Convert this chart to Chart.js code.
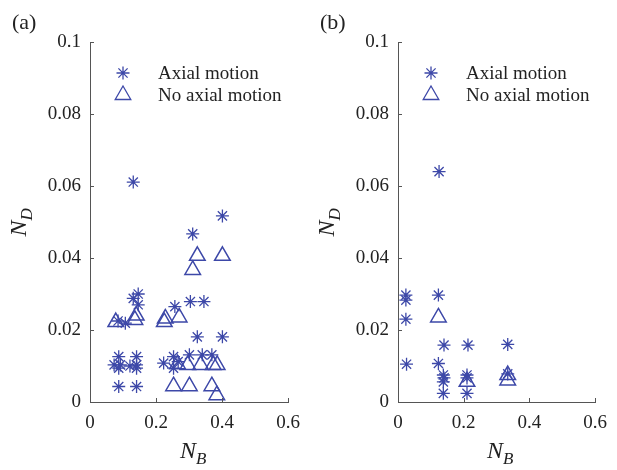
<!DOCTYPE html>
<html>
<head>
<meta charset="utf-8">
<script src="https://cdn.jsdelivr.net/npm/chart.js@4"></script>
<style>
    body { margin: 0; background: #fff; }
    #wrap { position: relative; width: 617px; height: 470px; font-family: "Liberation Serif", "DejaVu Serif", serif; color: #222; }
    canvas { position: absolute; top: 0; }
    .lbl { position: absolute; font-size: 22px; line-height: 1; }
    .title { position: absolute; font-size: 24px; font-style: italic; white-space: nowrap; line-height: 1; }
    .title sub { font-size: 17px; }
    .rot { transform: rotate(-90deg); transform-origin: center; }
</style>
</head>
<body>
<div id="wrap">
    <canvas id="chart-a" width="310" height="470" style="left:0"></canvas>
    <canvas id="chart-b" width="307" height="470" style="left:310px"></canvas>
    <div class="lbl" style="left:12px; top:11px">(a)</div>
    <div class="lbl" style="left:320px; top:11px">(b)</div>
    <div class="title rot" style="left:6px; top:208px">N<sub>D</sub></div>
    <div class="title rot" style="left:314px; top:208px">N<sub>D</sub></div>
    <div class="title" style="left:180px; top:438px">N<sub>B</sub></div>
    <div class="title" style="left:487px; top:438px">N<sub>B</sub></div>
</div>
<script>
const xTicks = [0, 0.2, 0.4, 0.6];
const yTicks = [0, 0.02, 0.04, 0.06, 0.08, 0.1];
const seriesNames = ['Axial motion', 'No axial motion'];

// (a) N_B, N_D pairs
const axialA = [
    [0.131, 0.0611], [0.311, 0.0467], [0.401, 0.0517],
    [0.146, 0.0300], [0.131, 0.0288], [0.146, 0.0270],
    [0.107, 0.0219], [0.085, 0.0225],
    [0.257, 0.0265], [0.304, 0.0279], [0.345, 0.0279],
    [0.325, 0.0181], [0.401, 0.0181],
    [0.087, 0.0126], [0.141, 0.0126], [0.073, 0.0103], [0.092, 0.0103],
    [0.121, 0.0100], [0.141, 0.0103], [0.141, 0.0094], [0.087, 0.0094],
    [0.087, 0.0043], [0.141, 0.0043],
    [0.223, 0.0108], [0.253, 0.0126], [0.253, 0.0094], [0.267, 0.0112],
    [0.301, 0.0131], [0.340, 0.0131], [0.369, 0.0131]
];
const noAxialA = [
    [0.078, 0.0222], [0.136, 0.0228], [0.140, 0.0240],
    [0.228, 0.0232], [0.225, 0.0222], [0.270, 0.0235],
    [0.311, 0.0367], [0.325, 0.0406], [0.401, 0.0406],
    [0.265, 0.0105], [0.296, 0.0103], [0.335, 0.0103], [0.373, 0.0103], [0.385, 0.0103],
    [0.253, 0.0044], [0.301, 0.0044], [0.369, 0.0044], [0.384, 0.0019]
];

// (b)
const axialB = [
    [0.024, 0.0297], [0.024, 0.0283], [0.024, 0.0230], [0.026, 0.0105],
    [0.125, 0.0640], [0.123, 0.0297], [0.123, 0.0107],
    [0.140, 0.0158], [0.213, 0.0158], [0.334, 0.0160],
    [0.138, 0.0075], [0.140, 0.0067], [0.138, 0.0056], [0.138, 0.0024],
    [0.210, 0.0075], [0.210, 0.0067], [0.210, 0.0024], [0.334, 0.0078]
];
const noAxialB = [
    [0.123, 0.0235], [0.210, 0.0056], [0.334, 0.0075], [0.334, 0.0060]
];

const BLUE = '#3d48a8';
const AXIS = '#555';
const FONT = '"Liberation Serif", serif';

const toPoints = arr => arr.map(p => ({x: p[0], y: p[1]}));
const fmt = v => String(Number(v.toFixed(2)));

// inward tick marks + legend in upper left
const extras = {
    id: 'extras',
    afterDraw(chart, args, opts) {
        const ctx = chart.ctx;
        const {left, bottom} = chart.chartArea;
        const xs = chart.scales.x, ys = chart.scales.y;
        ctx.save();
        ctx.strokeStyle = AXIS;
        ctx.lineWidth = 1;
        ctx.beginPath();
        xTicks.forEach(v => {
            let px = Math.round(xs.getPixelForValue(v)) + 0.5;
            ctx.moveTo(px, bottom);
            ctx.lineTo(px, bottom - 4);
        });
        yTicks.forEach(v => {
            let py = Math.round(ys.getPixelForValue(v)) + 0.5;
            ctx.moveTo(left, py);
            ctx.lineTo(left + 4, py);
        });
        ctx.stroke();

        let lx = left + opts.dx;
        let rows = [
            {style: 'star', radius: 6.5, y: 73},
            {style: 'triangle', radius: 9, y: 95}
        ];
        ctx.font = '19px ' + FONT;
        ctx.textBaseline = 'middle';
        rows.forEach((r, i) => {
            ctx.strokeStyle = BLUE;
            ctx.fillStyle = 'rgba(0,0,0,0)';
            ctx.lineWidth = 1.3;
            Chart.helpers.drawPoint(ctx, {pointStyle: r.style, radius: r.radius, borderWidth: 1.3, rotation: 0}, lx, r.y);
            ctx.fillStyle = '#222';
            ctx.fillText(seriesNames[i], lx + 35, r.y + 1);
        });
        ctx.restore();
    }
};

function makeChart(id, axial, noAxial, yWidth, padRight) {
    return new Chart(document.getElementById(id), {
        type: 'scatter',
        data: {
            datasets: [
                {
                    label: seriesNames[0],
                    data: toPoints(axial),
                    pointStyle: 'star',
                    radius: 6.5,
                    borderColor: BLUE,
                    backgroundColor: 'rgba(0,0,0,0)',
                    borderWidth: 1.3,
                },
                {
                    label: seriesNames[1],
                    data: toPoints(noAxial),
                    pointStyle: 'triangle',
                    radius: 9,
                    borderColor: BLUE,
                    backgroundColor: 'rgba(0,0,0,0)',
                    borderWidth: 1.5,
                }
            ]
        },
        options: {
            responsive: false,
            animation: false,
            layout: {padding: {top: 42, right: padRight, left: 0, bottom: 0}},
            plugins: {
                legend: {display: false},
                tooltip: {enabled: false},
                extras: {dx: 33}
            },
            scales: {
                x: {
                    type: 'linear',
                    min: 0,
                    max: 0.6,
                    afterBuildTicks: s => { s.ticks = xTicks.map(v => ({value: v})); },
                    afterFit: s => { s.height = 68; },
                    grid: {display: false, drawTicks: false},
                    border: {color: AXIS, width: 1},
                    ticks: {
                        callback: fmt,
                        color: '#222',
                        padding: 10,
                        maxRotation: 0,
                        font: {family: FONT, size: 19}
                    }
                },
                y: {
                    type: 'linear',
                    min: 0,
                    max: 0.1,
                    afterBuildTicks: s => { s.ticks = yTicks.map(v => ({value: v})); },
                    afterFit: s => { s.width = yWidth; },
                    grid: {display: false, drawTicks: false},
                    border: {color: AXIS, width: 1},
                    ticks: {
                        callback: fmt,
                        color: '#222',
                        padding: 9,
                        font: {family: FONT, size: 19}
                    }
                }
            }
        },
        plugins: [extras]
    });
}

makeChart('chart-a', axialA, noAxialA, 90, 14);
makeChart('chart-b', axialB, noAxialB, 88, 13);
</script>
</body>
</html>
